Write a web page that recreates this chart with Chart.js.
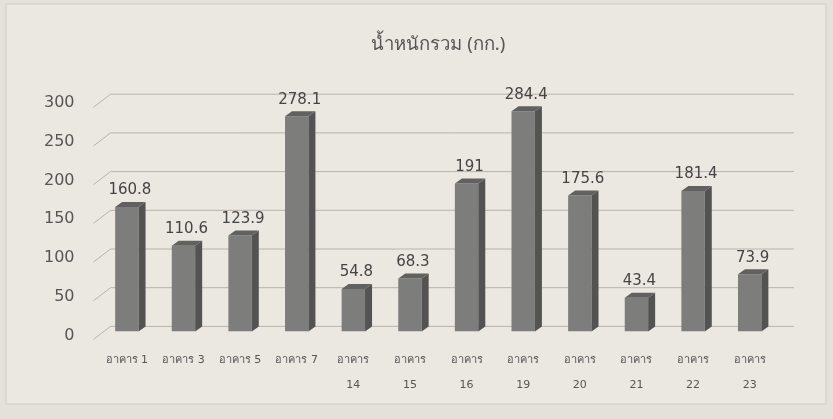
<!DOCTYPE html>
<html>
<head>
<meta charset="utf-8">
<script src="https://cdn.jsdelivr.net/npm/chart.js@4"></script>
<style>
  html, body { margin: 0; padding: 0; background: #e4e0da; }
  #wrap { width: 833px; height: 419px; position: relative; }
</style>
</head>
<body>
<div id="wrap"><canvas id="weightChart" width="833" height="419"></canvas></div>
<script>
const buildings = ['อาคาร 1', 'อาคาร 3', 'อาคาร 5', 'อาคาร 7', ['อาคาร', '14'], ['อาคาร', '15'],
    ['อาคาร', '16'], ['อาคาร', '19'], ['อาคาร', '20'], ['อาคาร', '21'], ['อาคาร', '22'], ['อาคาร', '23']];
const weights = [160.8, 110.6, 123.9, 278.1, 54.8, 68.3, 191, 284.4, 175.6, 43.4, 181.4, 73.9];
const yTicks = [0, 50, 100, 150, 200, 250, 300];

// back-wall grid lines with a little perspective kink on the left
const grid3d = {
    id: 'grid3d',
    beforeDatasetsDraw(chart) {
        const ctx = chart.ctx;
        const y = chart.scales.y;
        const left = chart.chartArea.left;
        ctx.save();
        ctx.strokeStyle = '#b7b3ac';
        ctx.lineWidth = 1;
        yTicks.forEach(v => {
            const py = y.getPixelForValue(v);
            ctx.beginPath();
            ctx.moveTo(left - 5, py + 8);
            ctx.lineTo(left + 12, py - 5);
            ctx.lineTo(794, py - 5);
            ctx.stroke();
        });
        ctx.restore();
    }
};

// fake 3d: side + top faces drawn from the bar element positions
const bar3d = {
    id: 'bar3d',
    afterDatasetsDraw(chart) {
        const ctx = chart.ctx;
        const dx = 7, dy = -5;
        chart.getDatasetMeta(0).data.forEach((bar, i) => {
            const w = bar.width / 2;
            const l = bar.x - w, r = bar.x + w, t = bar.y, b = bar.base;
            ctx.save();
            ctx.fillStyle = '#535351';
            ctx.beginPath();
            ctx.moveTo(r, t); ctx.lineTo(r + dx, t + dy); ctx.lineTo(r + dx, b + dy); ctx.lineTo(r, b);
            ctx.closePath(); ctx.fill();
            ctx.fillStyle = '#61615f';
            ctx.beginPath();
            ctx.moveTo(l, t); ctx.lineTo(l + dx, t + dy); ctx.lineTo(r + dx, t + dy); ctx.lineTo(r, t);
            ctx.closePath(); ctx.fill();
            ctx.fillStyle = '#444';
            ctx.font = '15px "DejaVu Sans"';
            ctx.textAlign = 'center';
            ctx.textBaseline = 'bottom';
            ctx.fillText(String(weights[i]), bar.x + 3, t - 9);
            ctx.restore();
        });
    }
};

const frame = {
    id: 'frame',
    beforeDraw(chart) {
        const ctx = chart.ctx;
        ctx.save();
        ctx.fillStyle = '#ebe8e2';
        ctx.fillRect(6, 4, 820, 400);
        ctx.strokeStyle = '#cfcbc4';
        ctx.strokeRect(6, 4, 820, 400);
        ctx.restore();
    }
};

new Chart(document.getElementById('weightChart').getContext('2d'), {
    type: 'bar',
    data: {
        labels: buildings,
        datasets: [{
            data: weights,
            backgroundColor: '#7d7d7b',
            barPercentage: 0.435,
            categoryPercentage: 0.95
        }]
    },
    options: {
        responsive: false,
        animation: false,
        layout: { padding: { left: 28, right: 55, top: 0, bottom: 13 } },
        plugins: {
            legend: { display: false },
            tooltip: { enabled: false },
            title: {
                display: true,
                fullSize: false,
                text: 'น้ำหนักรวม (กก.)',
                color: '#555',
                font: { family: '"Noto Sans", "DejaVu Sans"', size: 18.5, weight: 'normal' },
                padding: { top: 34, bottom: 43 }
            }
        },
        scales: {
            x: {
                grid: { display: false },
                border: { display: false },
                ticks: {
                    color: '#555',
                    font: { family: '"DejaVu Sans"', size: 11, lineHeight: 2.3 },
                    maxRotation: 0,
                    autoSkip: false,
                    padding: 8
                }
            },
            y: {
                min: 0,
                max: 300,
                afterBuildTicks(axis) { axis.ticks = yTicks.map(v => ({ value: v })); },
                grid: { display: false },
                border: { display: false },
                ticks: {
                    color: '#555',
                    font: { family: '"DejaVu Sans"', size: 16 },
                    padding: 16,
                    labelOffset: 4
                }
            }
        }
    },
    plugins: [frame, grid3d, bar3d]
});
</script>
</body>
</html>
